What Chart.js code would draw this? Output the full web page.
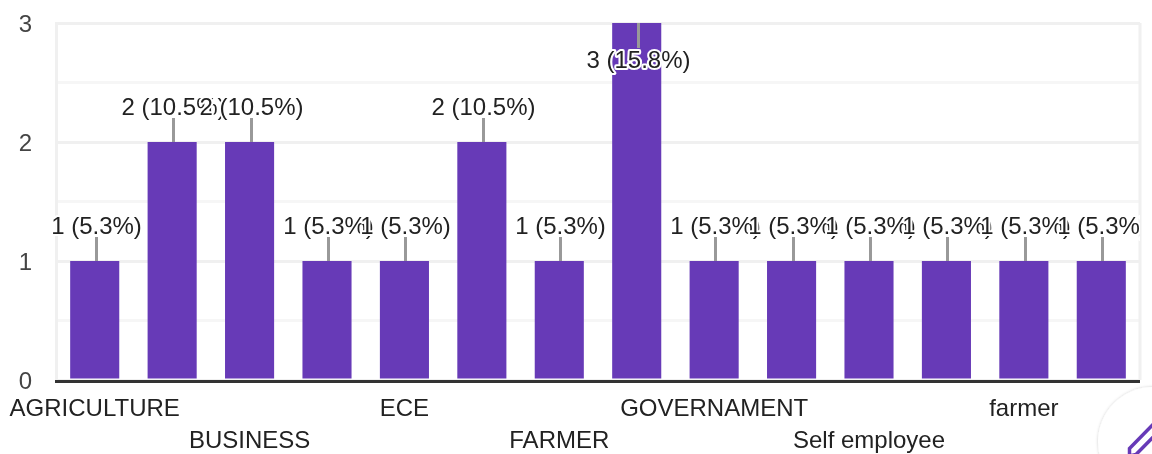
<!DOCTYPE html>
<html>
<head>
<meta charset="utf-8">
<style>
  html, body { margin: 0; padding: 0; background: #fff; overflow: hidden; }
  #wrap { position: relative; width: 1152px; height: 454px; }
  #fab { position: absolute; left: 0; top: 0; }
</style>
<script src="https://cdn.jsdelivr.net/npm/chart.js@4"></script>
</head>
<body>
<div id="wrap">
  <canvas id="chartCanvas" width="1152" height="454"></canvas>
  <svg id="fab" width="1152" height="454">
    <defs>
      <filter id="soft" x="-20%" y="-20%" width="140%" height="140%">
        <feDropShadow dx="0" dy="0" stdDeviation="1.5" flood-color="#000" flood-opacity="0.2"/>
      </filter>
    </defs>
    <circle cx="1153" cy="442" r="55" fill="#fff" filter="url(#soft)"/>
    <path d="M1129.5 448.5 L1154 423.5 L1160 430 L1136 454.5 L1129.5 456 Z" stroke="#673ab7" stroke-width="3.5" fill="#fff"/>
  </svg>
</div>
<script>
const categories = ['AGRICULTURE', '', 'BUSINESS', '', 'ECE', '', 'FARMER', '', 'GOVERNAMENT', '', 'Self employee', '', 'farmer', ''];
const counts = [1, 2, 2, 1, 1, 2, 1, 3, 1, 1, 1, 1, 1, 1];
const percents = ['5.3', '10.5', '10.5', '5.3', '5.3', '10.5', '5.3', '15.8', '5.3', '5.3', '5.3', '5.3', '5.3', '5.3'];
const yMax = 3;

const textFont = '24px "Liberation Sans"';

// right edge of the plot, y tick text, baseline, leader lines + "n (p%)" labels
const barLabels = {
  id: 'barLabels',
  beforeDatasetsDraw(chart) {
    const { ctx, chartArea } = chart;
    const ys = chart.scales.y;
    ctx.save();
    ctx.strokeStyle = '#f0f0f0';
    ctx.lineWidth = 3;
    ctx.beginPath();
    ctx.moveTo(chartArea.right, chartArea.top);
    ctx.lineTo(chartArea.right, chartArea.bottom);
    ctx.stroke();

    ctx.font = textFont;
    ctx.fillStyle = '#444444';
    ctx.textAlign = 'right';
    ctx.textBaseline = 'middle';
    ys.ticks.filter(t => Number.isInteger(t.value)).forEach(t => {
      ctx.fillText(t.value, 32, ys.getPixelForValue(t.value) + 2);
    });
    ctx.restore();
  },
  afterDatasetsDraw(chart) {
    const { ctx, chartArea } = chart;
    const xs = chart.scales.x;
    const ys = chart.scales.y;
    ctx.save();
    ctx.strokeStyle = '#333333';
    ctx.lineWidth = 3;
    ctx.beginPath();
    ctx.moveTo(chartArea.left - 1, chartArea.bottom + 1.5);
    ctx.lineTo(chartArea.right, chartArea.bottom + 1.5);
    ctx.stroke();

    // the original cuts the outermost labels off at the plot edges
    ctx.beginPath();
    ctx.rect(52, 0, chartArea.right - 52, chartArea.bottom);
    ctx.clip();

    ctx.font = textFont;
    ctx.textAlign = 'center';
    ctx.textBaseline = 'middle';
    counts.forEach((v, i) => {
      const x = Math.round(xs.getPixelForValue(i)) + 1.5;
      const top = ys.getPixelForValue(v);
      const inside = v === yMax;
      const lineEnd = inside ? top + 25 : top - 24;
      const textY = inside ? top + 38 : top - 34;
      ctx.strokeStyle = '#999999';
      ctx.lineWidth = 3;
      ctx.beginPath();
      ctx.moveTo(x, top);
      ctx.lineTo(x, lineEnd);
      ctx.stroke();
      const txt = v + ' (' + percents[i] + '%)';
      ctx.strokeStyle = '#ffffff';
      ctx.lineWidth = 4;
      ctx.lineJoin = 'round';
      ctx.strokeText(txt, x, textY);
      ctx.fillStyle = '#222222';
      ctx.fillText(txt, x, textY);
    });
    ctx.restore();
  }
};

new Chart(document.getElementById('chartCanvas'), {
  type: 'bar',
  data: {
    labels: categories,
    datasets: [{
      data: counts,
      backgroundColor: '#673ab7',
      categoryPercentage: 1,
      barPercentage: 0.634
    }]
  },
  plugins: [barLabels],
  options: {
    responsive: false,
    animation: false,
    layout: { padding: { top: 23, right: 12, left: 0, bottom: 0 } },
    plugins: { legend: { display: false }, tooltip: { enabled: false } },
    scales: {
      x: {
        afterFit: s => { s.height = 74; },
        grid: { display: false },
        border: { display: false },
        ticks: {
          autoSkip: false,
          maxRotation: 0,
          minRotation: 0,
          padding: 5,
          color: '#222222',
          font: { family: 'Liberation Sans', size: 24, lineHeight: 1.333 },
          callback(val, i) {
            // every other shown label sits on the second row
            return i % 4 === 2 ? ['', categories[i]] : categories[i];
          }
        }
      },
      y: {
        min: 0,
        max: yMax,
        afterFit: s => { s.width = 56; s.paddingTop = 0; s.paddingBottom = 0; },
        grid: {
          drawTicks: false,
          lineWidth: 3,
          color: c => Number.isInteger(c.tick.value) ? '#f0f0f0' : '#f6f6f6'
        },
        border: { color: '#f0f0f0', width: 3 },
        ticks: { stepSize: 0.5, display: false }
      }
    }
  }
});
</script>
</body>
</html>
